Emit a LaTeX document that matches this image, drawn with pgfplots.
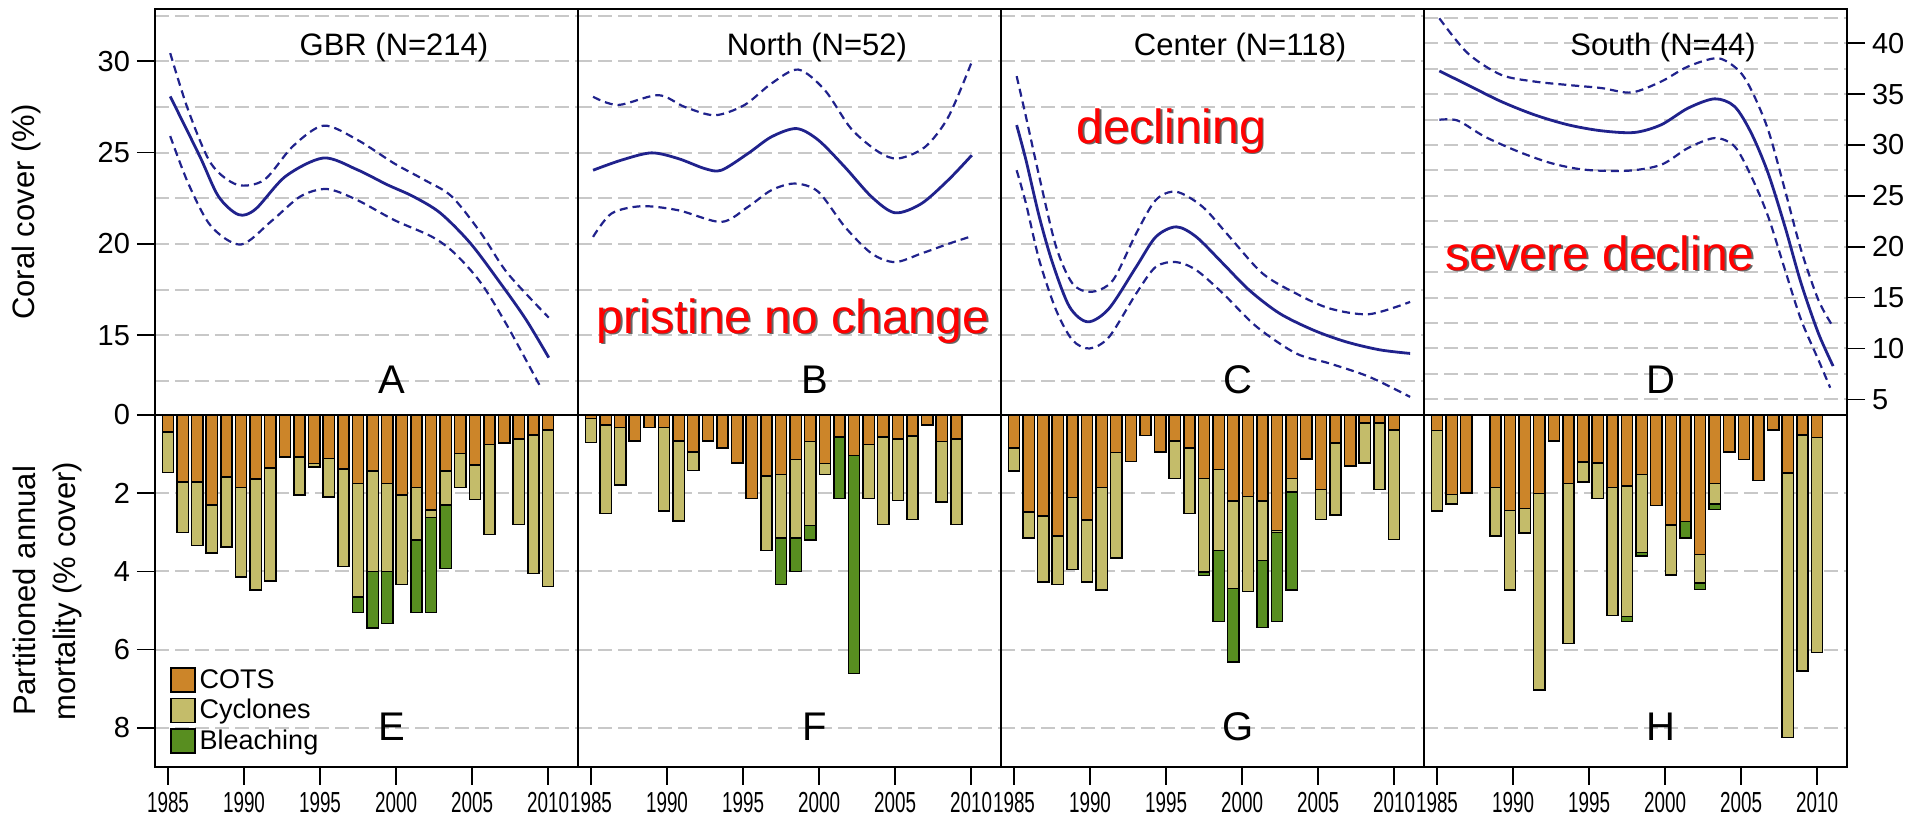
\documentclass[border=0pt]{standalone}
\usepackage{fontspec}
\setmainfont{Liberation Sans}
\newfontfamily\narrowfont[FakeStretch=0.65]{Liberation Sans}
\usepackage{pgfplots}
\usepackage{pgfplotstable}
\pgfplotsset{compat=1.18}

\definecolor{cots}{RGB}{204,133,41}
\definecolor{cyclone}{RGB}{196,188,106}
\definecolor{bleach}{RGB}{88,142,32}
\definecolor{fitblue}{RGB}{32,34,140}
\definecolor{gridgray}{RGB}{200,200,200}

\newcommand\tickfont{\fontsize{14.5}{14.5}\selectfont}
\newcommand\titlefont{\fontsize{15.5}{15.5}\selectfont}
\newcommand\labfont{\fontsize{15.5}{20}\selectfont}
\newcommand\letfont{\fontsize{20}{20}\selectfont}
\newcommand\redfont{\fontsize{24}{24}\selectfont}
\newcommand\legfont{\fontsize{13.5}{13.5}\selectfont}

% partitioned annual mortality, bar index 0..26 (1985 onwards)
\pgfplotstableread{
idx cots cyc bleach
0  0.44 1.03 0
1  1.71 1.29 0
2  1.71 1.63 0
3  2.30 1.23 0
4  1.58 1.80 0
5  1.85 2.29 0
6  1.64 2.84 0
7  1.35 2.89 0
8  1.07 0    0
9  1.07 0.97 0
10 1.24 0.09 0
11 1.11 0.99 0
12 1.38 2.49 0
13 1.75 2.90 0.40
14 1.43 2.57 1.44
15 1.75 2.25 1.33
16 2.04 2.30 0
17 1.85 1.35 1.85
18 2.43 0.19 2.43
19 1.43 0.87 1.62
20 0.98 0.87 0
21 1.28 0.88 0
22 0.75 2.31 0
23 0.71 0    0
24 0.62 2.18 0
25 0.51 3.54 0
26 0.38 4.00 0
}\mortE

\pgfplotstableread{
idx cots cyc bleach
0  0.09 0.61 0
1  0.26 2.26 0
2  0.32 1.47 0
3  0.67 0    0
4  0.32 0    0
5  0.32 2.14 0
6  0.67 2.04 0
7  0.95 0.47 0
8  0.67 0    0
9  0.85 0    0
10 1.23 0    0
11 2.14 0    0
12 1.56 1.90 0
13 1.52 1.63 1.18
14 1.14 2.01 0.85
15 0.68 2.14 0.37
16 1.24 0.28 0
17 0.56 0    1.58
18 1.03 0    5.58
19 0.75 1.39 0
20 0.56 2.24 0
21 0.61 1.57 0
22 0.54 2.13 0
23 0.26 0    0
24 0.68 1.54 0
25 0.61 2.19 0
26 0    0    0
}\mortF

\pgfplotstableread{
idx cots cyc bleach
0  0.85 0.58 0
1  2.48 0.66 0
2  2.58 1.69 0
3  3.09 1.24 0
4  2.11 1.84 0
5  2.68 1.59 0
6  1.86 2.61 0
7  0.96 2.70 0
8  1.19 0    0
9  0.52 0    0
10 0.95 0    0
11 0.67 0.95 0
12 0.84 1.68 0
13 1.62 2.40 0.08
14 1.39 2.07 1.82
15 2.20 2.23 1.89
16 2.09 2.42 0
17 2.20 1.52 1.71
18 2.95 0.05 2.28
19 1.62 0.35 2.50
20 1.13 0    0
21 1.91 0.76 0
22 0.71 1.85 0
23 1.31 0    0
24 0.21 1.02 0
25 0.21 1.70 0
26 0.38 2.80 0
}\mortG

\pgfplotstableread{
idx cots cyc bleach
0  0.40 2.06 0
1  2.03 0.25 0
2  1.99 0    0
3  0    0    0
4  1.85 1.24 0
5  2.44 2.03 0
6  2.39 0.63 0
7  2.01 5.02 0
8  0.67 0    0
9  1.75 4.09 0
10 1.20 0.51 0
11 1.23 0.91 0
12 1.86 3.27 0
13 1.81 3.34 0.13
14 1.52 2.00 0.09
15 2.32 0    0
16 2.81 1.28 0
17 2.72 0    0.42
18 3.57 0.72 0.17
19 1.75 0.53 0.14
20 0.94 0    0
21 1.14 0    0
22 1.67 0    0
23 0.38 0    0
24 1.48 6.77 0
25 0.51 6.03 0
26 0.57 5.50 0
}\mortH

\pgfplotsset{
  base/.style={scale only axis, width=211.5pt, xmin=-0.89, xmax=28.05,
    axis line style={line width=0.8pt},
    tick align=outside, major tick length=9pt, minor tick length=0pt,
    every tick/.style={black, line width=0.8pt},
    /pgf/number format/assume math mode=true,
    ticklabel style={font=\tickfont},
    major grid style={gridgray, line width=1pt, dash pattern=on 7pt off 3pt},
    minor grid style={gridgray, line width=1pt, dash pattern=on 7pt off 3pt}},
  toprow/.style={base, height=202.85pt, xtick=\empty,
    ymin=10.63, ymax=32.84, ytick={15,20,25,30},
    minor ytick={12.5,17.5,22.5,27.5,32.5}, ymajorgrids, yminorgrids},
  botrow/.style={base, height=176pt, ymin=0, ymax=9, y dir=reverse,
    ybar stacked, bar width=0.77, ytick={0,2,4,6,8}, ymajorgrids,
    xtick={0,5.2,10.4,15.6,20.8,26},
    xticklabels={1985,1990,1995,2000,2005,2010}, xtick pos=left,
    xticklabel style={font=\narrowfont\tickfont, inner xsep=0pt}},
  noy/.style={yticklabels={}, ytick style={draw=none}},
  fitsolid/.style={fitblue, line width=1.4pt, smooth, no markers},
  fitdash/.style={fitblue, line width=1.1pt, smooth, no markers, dash pattern=on 4pt off 2.5pt},
  barb/.style={draw=black, line width=0.75pt},
  legsq/.style={legend image code/.code={\fill[##1] (0pt,-6pt) rectangle (12pt,6pt);}},
}

\tikzset{
  ttl/.style={anchor=base, font=\titlefont},
  let/.style={anchor=base, font=\letfont},
}

\newcommand\redtext[2]{%
  \node[anchor=base, font=\redfont, text=black!60] at ([xshift=0.9pt,yshift=-0.9pt]#1) {#2};
  \node[anchor=base, font=\redfont, text=red] at (#1) {#2};}

\begin{document}
\begin{tikzpicture}
\useasboundingbox (0,0) rectangle (953.5pt,409.5pt);

% ---------- top row: coral cover ----------
\begin{axis}[toprow, at={(77.5pt,202pt)}, anchor=south west, ytick pos=left,
  ylabel={Coral cover (\%)},
  ylabel style={at={(axis description cs:-0.305,0.5)}, anchor=center, font=\labfont}]
\addplot[fitsolid] coordinates {(0.15,28.07) (2.17,24.8) (3.45,22.6) (4.82,21.6) (5.99,21.9) (8.05,23.7) (10.64,24.7) (12.94,24.06) (14.99,23.24) (16.76,22.6) (18.61,21.7) (20.67,20.05) (22.72,17.87) (24.48,15.87) (26.05,13.77)};
\addplot[fitdash] coordinates {(0.15,30.44) (1.39,27.3) (2.94,24.4) (4.72,23.24) (6.58,23.5) (8.54,25.34) (10.64,26.47) (12.94,25.7) (15.48,24.4) (17.54,23.5) (19.4,22.6) (21.4,20.6) (23.22,18.4) (26.05,15.96)};
\addplot[fitdash] coordinates {(0.15,25.9) (1.39,23.3) (2.94,20.97) (4.98,19.96) (7.07,21.24) (9.07,22.6) (10.88,23.0) (12.94,22.4) (15.48,21.3) (18.03,20.4) (19.59,19.5) (21.4,17.87) (23.22,15.5) (25.46,12.2)};
\node[ttl] at (rel axis cs:0.565,0.887) {GBR (N=214)};
\node[let] at (rel axis cs:0.56,0.054) {A};
\end{axis}

\begin{axis}[toprow, noy, at={(289pt,202pt)}, anchor=south west]
\addplot[fitsolid] coordinates {(0.14,24.03) (2.07,24.58) (4.13,24.98) (5.96,24.67) (7.78,24.12) (8.92,24.03) (10.75,24.95) (12.35,25.86) (14.06,26.31) (15.55,25.68) (17.37,24.2) (19.2,22.57) (20.8,21.7) (22.6,22.2) (24.45,23.5) (26.05,24.85)};
\addplot[fitdash] coordinates {(0.14,28.05) (1.85,27.6) (4.6,28.14) (6.4,27.5) (8.47,27.04) (10.5,27.6) (12.35,28.78) (14.18,29.54) (16.0,28.41) (17.8,26.3) (19.66,25.04) (21.0,24.67) (22.85,25.3) (24.45,26.95) (26.05,29.96)};
\addplot[fitdash] coordinates {(0.14,20.38) (1.4,21.66) (3.45,22.06) (5.96,21.84) (8.92,21.2) (10.75,22.03) (12.35,22.94) (13.95,23.3) (15.55,22.85) (17.37,20.93) (19.2,19.47) (20.8,19.0) (22.6,19.47) (24.45,20.0) (25.9,20.38)};
\node[ttl] at (rel axis cs:0.565,0.887) {North (N=52)};
\node[let] at (rel axis cs:0.56,0.054) {B};
\redtext{rel axis cs:0.508,0.202}{pristine no change}
\end{axis}

\begin{axis}[toprow, noy, at={(500.5pt,202pt)}, anchor=south west]
\addplot[fitsolid] coordinates {(0.18,26.5) (0.82,24.58) (1.73,21.48) (2.65,18.92) (3.8,16.55) (5.05,15.73) (6.5,16.46) (8.36,18.74) (9.7,20.38) (11.1,20.93) (12.47,20.38) (14.3,18.92) (16.1,17.46) (18.17,16.19) (20.5,15.27) (22.7,14.64) (25.0,14.2) (27.1,14.0)};
\addplot[fitdash] coordinates {(0.18,29.18) (0.82,26.95) (1.73,23.67) (2.88,19.84) (4.0,17.83) (5.27,17.37) (6.76,18.0) (8.36,20.57) (9.7,22.4) (11.1,22.85) (12.9,22.03) (14.75,20.38) (17.0,18.38) (19.3,17.28) (21.6,16.46) (24.3,16.15) (27.1,16.82)};
\addplot[fitdash] coordinates {(0.18,24.03) (0.82,22.2) (1.73,19.1) (2.88,16.37) (4.0,14.73) (5.16,14.27) (6.5,14.9) (8.36,17.28) (9.7,18.74) (11.1,19.0) (12.47,18.56) (14.3,17.28) (16.6,15.46) (19.3,14.0) (21.6,13.45) (24.3,12.72) (27.1,11.62)};
\node[ttl] at (rel axis cs:0.565,0.887) {Center (N=118)};
\node[let] at (rel axis cs:0.56,0.054) {C};
\redtext{rel axis cs:0.402,0.67}{declining}
\end{axis}

\begin{axis}[toprow, at={(712pt,202pt)}, anchor=south west,
  ymin=3.46, ymax=43.34, ytick={5,10,...,40}, minor ytick={7.5,12.5,...,42.5},
  ytick pos=right, yticklabel pos=right]
\addplot[fitsolid] coordinates {(0.16,37.28) (2.1,35.9) (4.38,34.28) (6.66,32.97) (8.95,31.99) (11.23,31.4) (13.5,31.23) (15.34,31.99) (17.17,33.62) (19.0,34.54) (20.36,33.78) (21.5,31.17) (22.65,27.24) (23.8,22.0) (24.9,16.45) (26.08,11.54) (27.1,8.27)};
\addplot[fitdash] coordinates {(0.16,42.45) (2.1,39.02) (4.38,36.9) (6.66,36.24) (8.95,35.9) (11.23,35.6) (13.3,35.16) (15.34,36.24) (17.17,37.71) (19.2,38.53) (20.6,37.38) (21.5,35.42) (22.65,31.5) (23.8,25.6) (24.9,19.72) (26.08,14.8) (27.0,12.36)};
\addplot[fitdash] coordinates {(0.16,32.48) (1.42,32.4) (3.24,30.84) (5.53,29.37) (7.8,28.22) (10.1,27.57) (13.06,27.47) (15.34,28.06) (17.17,29.7) (19.0,30.68) (20.36,29.86) (21.5,26.92) (22.65,22.99) (23.8,17.76) (24.9,12.85) (26.08,8.92) (26.9,6.14)};
\node[ttl] at (rel axis cs:0.565,0.887) {South (N=44)};
\node[let] at (rel axis cs:0.56,0.054) {D};
\redtext{rel axis cs:0.416,0.357}{severe decline}
\end{axis}

% ---------- bottom row: partitioned mortality ----------
\begin{axis}[botrow, at={(77.5pt,202pt)}, anchor=north west, ytick pos=left,
  ylabel={Partitioned annual\\mortality (\% cover)},
  ylabel style={align=center, at={(axis description cs:-0.255,0.5)}, anchor=center, font=\labfont},
  legend cell align=left,
  legend style={draw=none, fill=none, inner sep=0pt, row sep=0pt, font=\legfont,
    at={(axis description cs:0.035,0.29)}, anchor=north west}]
\addplot[fill=cots, barb, legsq] table[x=idx,y=cots] {\mortE};
\addplot[fill=cyclone, barb, legsq] table[x=idx,y=cyc] {\mortE};
\addplot[fill=bleach, barb, legsq] table[x=idx,y=bleach] {\mortE};
\legend{COTS,Cyclones,Bleaching}
\node[let] at (axis cs:15.3,8.33) {E};
\end{axis}

\begin{axis}[botrow, noy, at={(289pt,202pt)}, anchor=north west]
\addplot[fill=cots, barb] table[x=idx,y=cots] {\mortF};
\addplot[fill=cyclone, barb] table[x=idx,y=cyc] {\mortF};
\addplot[fill=bleach, barb] table[x=idx,y=bleach] {\mortF};
\node[let] at (axis cs:15.3,8.33) {F};
\end{axis}

\begin{axis}[botrow, noy, at={(500.5pt,202pt)}, anchor=north west]
\addplot[fill=cots, barb] table[x=idx,y=cots] {\mortG};
\addplot[fill=cyclone, barb] table[x=idx,y=cyc] {\mortG};
\addplot[fill=bleach, barb] table[x=idx,y=bleach] {\mortG};
\node[let] at (axis cs:15.3,8.33) {G};
\end{axis}

\begin{axis}[botrow, noy, at={(712pt,202pt)}, anchor=north west]
\addplot[fill=cots, barb] table[x=idx,y=cots] {\mortH};
\addplot[fill=cyclone, barb] table[x=idx,y=cyc] {\mortH};
\addplot[fill=bleach, barb] table[x=idx,y=bleach] {\mortH};
\node[let] at (axis cs:15.3,8.33) {H};
\end{axis}

\end{tikzpicture}
\end{document}
